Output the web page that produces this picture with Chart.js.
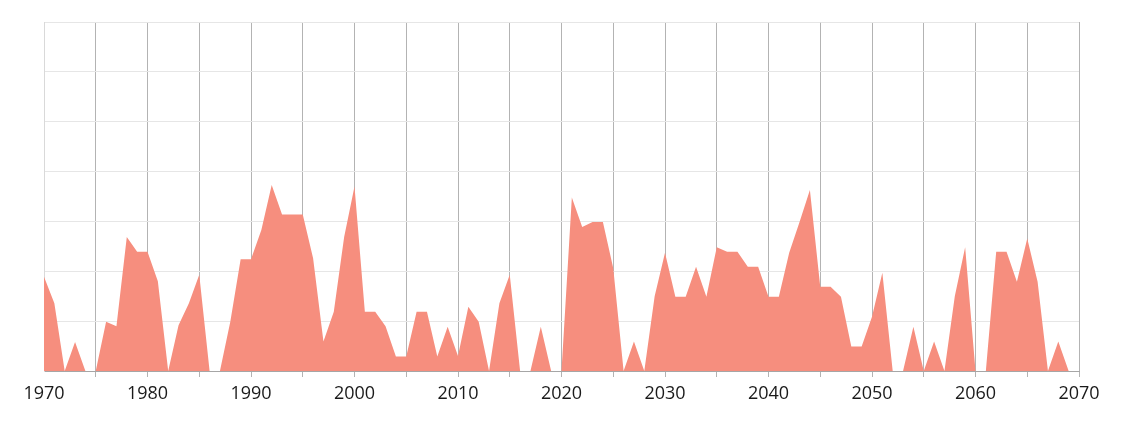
<!DOCTYPE html>
<html>
<head>
<meta charset="utf-8">
<script src="https://cdn.jsdelivr.net/npm/chart.js@4"></script>
<style>
html,body{margin:0;padding:0;background:#fff;}
#wrap{width:1124px;height:423px;position:relative;}
</style>
</head>
<body>
<div id="wrap"><canvas id="c" width="1124" height="423"></canvas></div>
<script>
const years = [];
for (let y = 1970; y <= 2070; y++) years.push(y);
const values = [
  1.89, 1.36, 0, 0.58, 0, 0, 0.99, 0.90, 2.69, 2.39,
  2.39, 1.80, 0, 0.92, 1.36, 1.93, 0, 0, 0.99, 2.24,
  2.24, 2.83, 3.73, 3.14, 3.14, 3.14, 2.26, 0.59, 1.19, 2.69,
  3.70, 1.19, 1.19, 0.90, 0.29, 0.29, 1.19, 1.19, 0.29, 0.89,
  0.30, 1.29, 0.99, 0, 1.36, 1.93, 0, 0, 0.89, 0,
  0, 3.48, 2.89, 2.99, 2.99, 2.06, 0, 0.59, 0, 1.50,
  2.37, 1.49, 1.49, 2.09, 1.49, 2.48, 2.39, 2.39, 2.09, 2.09,
  1.49, 1.49, 2.37, 2.99, 3.63, 1.69, 1.69, 1.49, 0.49, 0.49,
  1.09, 1.97, 0, 0, 0.89, 0, 0.59, 0, 1.50, 2.48,
  0, 0, 2.39, 2.39, 1.79, 2.66, 1.79, 0, 0.59, 0,
  0
];
const xTicks = [1970, 1975, 1980, 1985, 1990, 1995, 2000, 2005, 2010, 2015, 2020,
  2025, 2030, 2035, 2040, 2045, 2050, 2055, 2060, 2065, 2070];
const xLabels = [1970, 1980, 1990, 2000, 2010, 2020, 2030, 2040, 2050, 2060, 2070];
const points = years.map((y, i) => ({x: y, y: values[i]}));

new Chart(document.getElementById('c'), {
  type: 'line',
  data: {
    datasets: [{
      data: points,
      fill: 'origin',
      backgroundColor: '#f68e7e',
      borderWidth: 0,
      borderColor: 'rgba(0,0,0,0)',
      pointRadius: 0,
      tension: 0
    }]
  },
  options: {
    responsive: false,
    animation: false,
    layout: {padding: {left: 44, right: 45, top: 22, bottom: 0}},
    plugins: {legend: {display: false}, tooltip: {enabled: false}},
    scales: {
      x: {
        type: 'linear',
        min: 1970, max: 2070,
        afterBuildTicks: (ax) => { ax.ticks = xTicks.map(v => ({value: v})); },
        afterFit: (ax) => { ax.height = 52; },
        grid: {
          color: (ctx) => ctx.index === 0 ? 'rgba(0,0,0,0)' : '#b3b3b3',
          lineWidth: 1,
          tickLength: 6,
          drawTicks: true
        },
        border: {color: '#a6a6a6', width: 1},
        ticks: {
          color: '#1a1a1a',
          font: {family: '"Open Sans"', size: 18},
          padding: 6,
          maxRotation: 0,
          autoSkip: false,
          callback: (v) => xLabels.includes(v) ? String(v) : ''
        }
      },
      y: {
        min: 0, max: 7,
        ticks: {display: false, stepSize: 1},
        afterFit: (ax) => { ax.width = 0; },
        grid: {color: '#e6e6e6', lineWidth: 1, drawTicks: false},
        border: {color: '#d9d9d9', width: 1}
      }
    }
  }
});
</script>
</body>
</html>
